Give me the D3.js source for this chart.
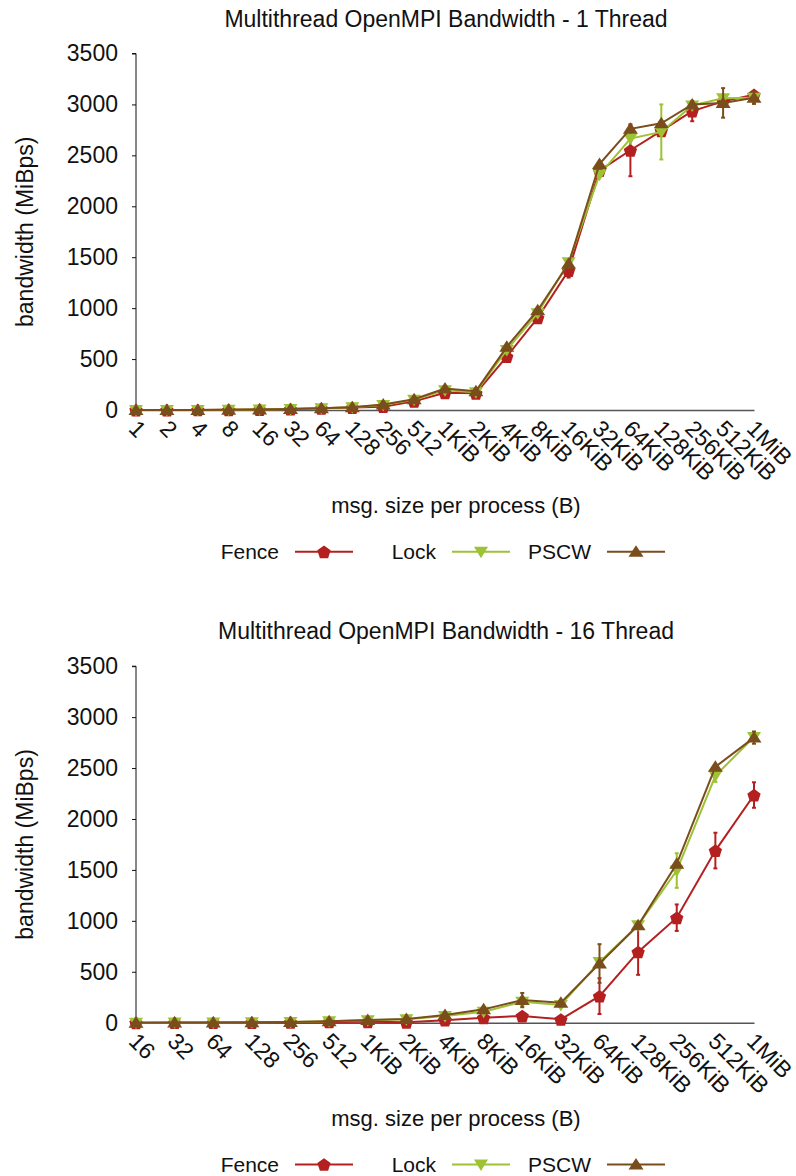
<!DOCTYPE html>
<html>
<head>
<meta charset="utf-8">
<script src="https://cdn.jsdelivr.net/npm/d3@7/dist/d3.min.js"></script>
<style>
  html, body { margin: 0; padding: 0; background: #fff; }
  svg { display: block; font-family: "Liberation Sans", Arial, Helvetica, sans-serif; }
</style>
</head>
<body>
<svg id="chart" width="796" height="1176"></svg>
<script>
// ---- 1 thread ----
const sizes1 = ["1","2","4","8","16","32","64","128","256","512","1KiB","2KiB","4KiB","8KiB","16KiB","32KiB","64KiB","128KiB","256KiB","512KiB","1MiB"];
const fence1 = [0.3,0.6,1.2,2.4,4.8,9,16,24,33,85,170,165,525,905,1370,2350,2550,2740,2935,3030,3095];
const lock1  = [0.3,0.6,1.2,2.5,5,9.5,17,27,50,100,195,175,590,950,1450,2310,2665,2730,2990,3060,3065];
const pscw1  = [0.3,0.6,1.2,2.5,5,10,18,28,55,105,210,185,620,980,1435,2415,2760,2815,3000,3015,3065];
const fence1Err = [0,0,0,0,0,0,0,0,0,0,0,0,0,0,70,0,255,0,100,30,30];
const lock1Err  = [0,0,0,0,0,0,0,0,0,0,0,0,0,0,0,0,0,270,0,0,50];
const pscw1Err  = [0,0,0,0,0,0,0,0,0,0,0,0,0,0,0,0,30,0,0,145,60];

// ---- 16 threads ----
const sizes16 = ["16","32","64","128","256","512","1KiB","2KiB","4KiB","8KiB","16KiB","32KiB","64KiB","128KiB","256KiB","512KiB","1MiB"];
const fence16 = [0.3,0.6,1.2,2.5,5,8,10,5,25,49,66,33,261,695,1031,1690,2235];
const lock16  = [0.4,0.8,1.6,3.5,7,14,24,34,65,108,205,173,597,956,1494,2424,2805];
const pscw16  = [0.4,0.8,1.6,3.5,7,15,26,36,75,131,222,196,581,956,1560,2512,2799];
const fence16Err = [0,0,0,0,0,0,0,0,0,0,0,0,176,225,130,175,125];
const lock16Err  = [0,0,0,0,0,0,0,0,0,0,40,0,0,0,170,60,0];
const pscw16Err  = [0,0,0,0,0,0,0,0,0,0,70,0,190,0,0,0,60];

const yTicks = [0,500,1000,1500,2000,2500,3000,3500];
const seriesNames = ["Fence","Lock","PSCW"];
const seriesColors = ["#b3201f","#9dc234","#7a4d1c"];
const seriesShapes = ["pentagon","down","up"];

const titles = ["Multithread OpenMPI Bandwidth - 1 Thread","Multithread OpenMPI Bandwidth - 16 Thread"];
const yLabel = "bandwidth (MiBps)";
const xLabel = "msg. size per process (B)";

const svg = d3.select("#chart");
const FONT = 23;

function markerPath(shape) {
  if (shape === "pentagon") {
    const r = 7;
    const pts = d3.range(5).map(i => {
      const a = -Math.PI / 2 + i * 2 * Math.PI / 5;
      return [r * Math.cos(a), r * Math.sin(a) + 0.8];
    });
    return "M" + pts.map(p => p.join(",")).join("L") + "Z";
  }
  if (shape === "up") return "M0,-6.5L7.5,5L-7.5,5Z";
  return "M0,6.5L7,-5L-7,-5Z";
}

function drawPanel(offsetY, title, cats, seriesVals, seriesErrs) {
  const g = svg.append("g").attr("transform", `translate(0,${offsetY})`);
  const x = d3.scalePoint().domain(cats).range([136, 754]);
  const y = d3.scaleLinear().domain([0, 3500]).range([410, 53.5]);

  g.append("text").attr("x", 446).attr("y", 26.5).attr("text-anchor", "middle")
    .attr("font-size", FONT).attr("fill", "#111").text(title);

  // y axis
  const yAxis = g.append("g").attr("transform", "translate(136,0)")
    .call(d3.axisLeft(y).tickValues(yTicks).tickSize(4).tickPadding(14).tickFormat(d3.format("d")));
  yAxis.select(".domain").attr("stroke", "#111").attr("d", `M-4,${y(3500)}H0V${y(0)}`);
  yAxis.selectAll(".tick line").attr("stroke", "#111");
  yAxis.selectAll(".tick text").attr("font-size", FONT).attr("fill", "#111")
    .attr("font-family", "Liberation Sans, Arial, sans-serif");

  // x axis
  const xAxis = g.append("g").attr("transform", `translate(0,${y(0)})`)
    .call(d3.axisBottom(x).tickSize(0).tickPadding(0));
  xAxis.select(".domain").attr("stroke", "#555").attr("stroke-width", 1.5);
  xAxis.selectAll(".tick text")
    .attr("font-size", FONT).attr("fill", "#111")
    .attr("font-family", "Liberation Sans, Arial, sans-serif")
    .attr("text-anchor", "start")
    .attr("dy", null).attr("y", null)
    .attr("transform", "translate(-9,20) rotate(45)");

  g.append("text").attr("transform", `translate(33,${(y(0) + y(3500)) / 2}) rotate(-90)`)
    .attr("text-anchor", "middle").attr("font-size", FONT).attr("fill", "#111").text(yLabel);

  g.append("text").attr("x", 456).attr("y", 513).attr("text-anchor", "middle")
    .attr("font-size", FONT - 1).attr("fill", "#111").text(xLabel);

  // series
  const line = d3.line().x((d, i) => x(cats[i])).y(d => y(d));
  seriesVals.forEach((vals, s) => {
    const sg = g.append("g");
    const col = seriesColors[s];
    sg.append("path").datum(vals).attr("d", line).attr("fill", "none")
      .attr("stroke", col).attr("stroke-width", 2);
    // error bars
    const errs = seriesErrs[s];
    const eb = sg.selectAll(".err").data(vals.map((v, i) => ({ v, e: errs[i], c: cats[i] })).filter(d => d.e > 0))
      .enter().append("g").attr("stroke", col).attr("stroke-width", 2);
    eb.append("line").attr("x1", d => x(d.c)).attr("x2", d => x(d.c))
      .attr("y1", d => y(d.v - d.e)).attr("y2", d => y(d.v + d.e));
    eb.append("line").attr("x1", d => x(d.c) - 2).attr("x2", d => x(d.c) + 2)
      .attr("y1", d => y(d.v - d.e)).attr("y2", d => y(d.v - d.e));
    eb.append("line").attr("x1", d => x(d.c) - 2).attr("x2", d => x(d.c) + 2)
      .attr("y1", d => y(d.v + d.e)).attr("y2", d => y(d.v + d.e));
    sg.selectAll(".mk").data(vals).enter().append("path")
      .attr("d", markerPath(seriesShapes[s]))
      .attr("transform", (d, i) => `translate(${x(cats[i])},${y(d)})`)
      .attr("fill", col);
  });

  // legend
  const lg = g.append("g").attr("transform", "translate(0,551.7)");
  const textEnds = [279, 436, 591];
  seriesNames.forEach((name, s) => {
    const tx = textEnds[s];
    lg.append("text").attr("x", tx).attr("y", 7.5).attr("text-anchor", "end")
      .attr("font-size", FONT - 2).attr("fill", "#111").text(name);
    lg.append("line").attr("x1", tx + 16).attr("x2", tx + 74).attr("y1", 0).attr("y2", 0)
      .attr("stroke", seriesColors[s]).attr("stroke-width", 2);
    lg.append("path").attr("d", markerPath(seriesShapes[s]))
      .attr("transform", `translate(${tx + 45},0)`).attr("fill", seriesColors[s]);
  });
}

drawPanel(0, titles[0], sizes1, [fence1, lock1, pscw1], [fence1Err, lock1Err, pscw1Err]);
drawPanel(612.7, titles[1], sizes16, [fence16, lock16, pscw16], [fence16Err, lock16Err, pscw16Err]);
</script>
</body>
</html>
